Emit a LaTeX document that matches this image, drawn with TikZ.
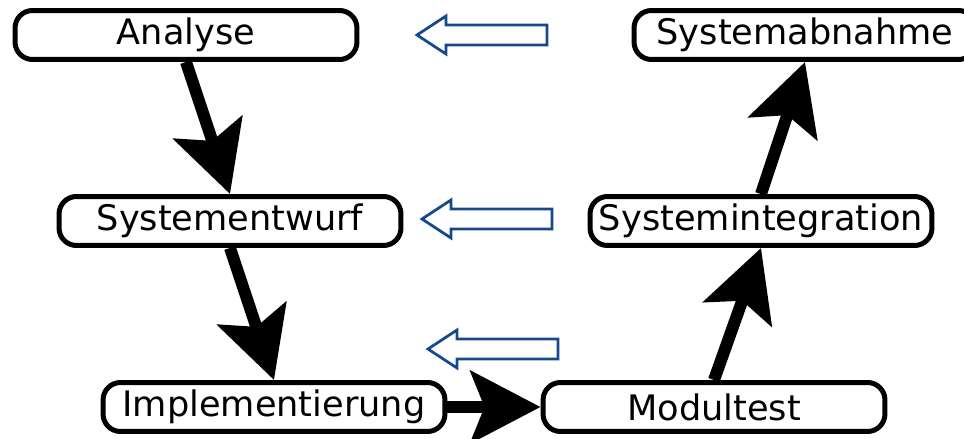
\documentclass[tikz,border=0pt]{standalone}
\usepackage{fontspec}
\setmainfont{DejaVu Sans}
\usetikzlibrary{arrows.meta}

\definecolor{backblue}{RGB}{20,74,140}

\tikzset{
  phase/.style={draw, line width=0.1cm, rounded corners=0.35cm, fill=white,
    minimum width=6.84cm, minimum height=0.98cm, inner sep=0pt,
    font=\fontsize{20}{24}\selectfont},
  flow/.style={line width=0.24cm, -{Stealth[length=1.4cm, width=1.44cm, inset=0.28cm]}},
  backarrow/.pic={
    \draw[backblue, line width=0.055cm] (0,0) -- (29,-19) -- (29,-10) -- (130,-10)
      -- (130,10) -- (29,10) -- (29,19) -- cycle;
  }
}

\begin{document}
\begin{tikzpicture}[x=0.02cm, y=-0.02cm]
  \useasboundingbox (0,0) rectangle (964,439);

  % Phasen links (absteigend)
  \node[phase] (analyse) at (186,35) {Analyse};
  \node[phase] (entwurf) at (230,221) {Systementwurf};
  \node[phase] (impl) at (274,407) {Implementierung};

  % Phasen rechts (aufsteigend)
  \node[phase] (modul) at (714,407) {Modultest};
  \node[phase] (integ) at (761,221) {Systemintegration};
  \node[phase] (abnahme) at (805,35) {Systemabnahme};

  % Ablauf
  \draw[flow] (analyse.south) -- (entwurf.north);
  \draw[flow] (entwurf.south) -- (impl.north);
  \draw[flow] (impl.east) -- (modul.west);
  \draw[flow] (modul.north) -- (integ.south);
  \draw[flow] (integ.north) -- (abnahme.south);

  % Rueckbezug
  \pic at (417,35) {backarrow};
  \pic at (422,219) {backarrow};
  \pic at (428,349) {backarrow};
\end{tikzpicture}
\end{document}
